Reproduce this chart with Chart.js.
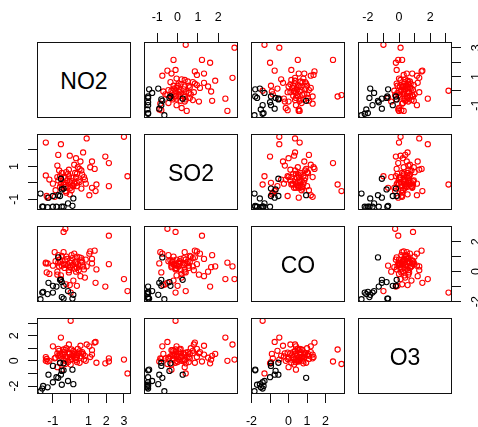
<!DOCTYPE html>
<html>
<head>
<meta charset="utf-8">
<script src="https://cdn.jsdelivr.net/npm/chart.js@4.4.1/dist/chart.umd.min.js"></script>
<style>
  html, body { margin: 0; background: #fff; overflow: hidden; }
  #wrap { position: relative; width: 478px; height: 427px; }
  #wrap canvas { position: absolute; }
  .diag {
    position: absolute; box-sizing: border-box; border: 1px solid #111;
    display: flex; align-items: center; justify-content: center;
    font: 23px "Liberation Sans", Arial, sans-serif; color: #000; padding-top: 2px;
  }
</style>
</head>
<body>
<div id="wrap"></div>
<script>
// variables, 18 points of cluster 1 (black) then 75 of cluster 2 (red)
const varNames = ['NO2', 'SO2', 'CO', 'O3'];

const no2 = [-1.70, -1.55, -1.60, -1.00, -0.80, -0.50, 0.10, -1.25, -0.70, -0.55, -0.40, -0.15, 0.15, -1.00, -0.50, -0.40, -1.30, -0.60,
  0.00, 3.20, 3.00, -0.30, -0.40, 2.15, 0.90, -0.55, -1.40, 2.15,
  1.95, 1.40, 1.45, 1.20, 1.20, 1.05, 1.10, 0.80, 0.70, 0.60,
  0.35, 0.20, 0.30, -0.05, -0.70, -0.75, -0.60, -0.30, -0.05, 0.20,
  -0.50, -0.25, -0.65, -0.25, 0.10, -0.40, -0.55, 0.00, -0.40, -0.75,
  -1.20, -1.40, -1.00, -0.60, -0.30, 0.05, 0.30, 0.65, 0.35, 0.05,
  -0.10, 0.50, 1.35, -0.90, -1.30, -1.35, 0.10, -0.20, 0.45, -0.35,
  0.25, -0.15, 0.60, -0.50, 0.40, 0.35, -0.70, 0.75, -0.05, -0.85,
  0.50, 0.55, 0.85, -0.10, 0.15];

const so2 = [-0.65, -1.45, -1.45, -1.45, -1.45, -1.45, -1.40, -0.90, -0.75, 0.25, -0.35, -1.25, -0.95, -0.80, -0.40, -1.45, -1.48, -0.80,
  -0.10, 0.40, 2.80, -0.50, -0.10, 1.20, 2.70, 2.35, 2.45, -0.20,
  1.60, -0.50, -0.10, -0.30, 1.30, -0.75, 0.95, 0.20, 1.85, 0.75,
  0.55, 1.10, 1.50, 1.65, 1.70, 1.05, 0.40, 0.30, 0.05, -0.05,
  -0.30, -0.60, 0.75, 0.65, 0.30, 0.05, -0.05, -0.30, 0.35, 0.35,
  0.20, 0.45, -0.05, -0.25, -0.25, 0.10, 0.35, 0.50, -0.20, -0.45,
  0.40, 0.05, 0.85, -0.85, -0.90, -0.80, -0.15, 0.15, 0.15, -0.10,
  0.60, 0.55, -0.35, 0.60, 0.95, 0.00, 0.15, 0.35, -0.70, -0.45,
  0.85, 1.30, -0.05, 0.80, -0.20];

const co = [-1.84, -1.35, -1.40, -1.40, -1.00, -1.70, -1.80, -0.75, 0.95, -0.55, -0.95, -1.30, -1.55, -0.95, -0.70, -1.80, -1.50, -0.55,
  -1.40, -1.30, -0.50, 2.86, 2.65, 2.40, 0.35, -0.50, 0.60, 0.50,
  -1.00, -0.75, 0.15, 0.55, 0.85, 1.20, 1.35, -0.40, 0.35, 0.90,
  0.25, 1.20, 0.00, 0.30, 1.10, -0.20, 0.80, 0.45, 0.60, 0.20,
  0.40, -0.85, 0.35, 1.00, 0.90, 0.50, -0.25, 0.30, 1.30, 0.00,
  -0.15, 0.55, 0.40, 0.65, 0.75, 0.70, 0.55, 0.65, 1.00, 1.10,
  -0.05, 0.35, 1.40, 1.30, 0.55, -0.05, 0.45, 0.85, 0.10, 0.25,
  0.65, 0.40, 0.75, 1.05, 0.50, -0.95, 0.60, 0.15, -0.90, 0.70,
  0.95, -0.30, 0.80, 0.10, -0.60];

const o3 = [-2.41, -2.00, -2.20, -1.70, -1.30, -1.90, -0.70, -1.10, -1.35, -1.10, -0.20, -1.60, -1.85, -0.40, -0.80, -0.75, -2.10, -0.15,
  3.18, -1.00, 0.10, -0.25, 0.90, -0.05, 1.30, 1.85, 0.00, 0.20,
  -0.20, 1.50, -0.15, 0.85, 0.50, 1.15, 0.30, 0.40, 0.55, 0.60,
  0.30, 0.70, 0.25, 0.10, 0.40, 0.60, -0.20, 0.00, 0.30, 0.50,
  -0.70, 0.20, 0.80, 1.00, 0.60, 0.10, 0.35, -0.30, 0.50, -0.50,
  0.00, 0.30, 1.15, 0.50, 0.85, 0.90, 0.05, 0.70, 0.45, 0.15,
  0.65, 0.75, 1.45, 0.20, -0.05, 0.15, 0.40, 0.30, 0.60, 0.70,
  0.20, -0.10, 0.35, 0.55, 0.95, -0.10, 0.95, 0.10, 0.55, 0.25,
  -0.15, 1.20, 0.00, 1.30, 0.80];

const cluster = [1, 1, 1, 1, 1, 1, 1, 1, 1, 1, 1, 1, 1, 1, 1, 1, 1, 1].concat(new Array(75).fill(2));

// ticks and the labels R kept on each outer axis
const ticksNO2 = [-1, 0, 1, 2, 3];
const ticksSO2 = [-1, 0, 1, 2];
const ticksCO = [-2, -1, 0, 1, 2];
const ticksO3 = [-2, -1, 0, 1, 2, 3];
const labelsSO2Top = ['-1', '0', '1', '2'];
const labelsO3Top = ['-2', '', '0', '', '2', ''];
const labelsNO2Bottom = ['-1', '', '1', '2', '3'];
const labelsCOBottom = ['-2', '', '0', '1', '2'];
const labelsSO2Left = ['-1', '', '1', ''];
const labelsO3Left = ['-2', '', '0', '', '2', ''];
const labelsNO2Right = ['-1', '', '1', '', '3'];
const labelsCORight = ['-2', '', '0', '', '2'];

const series = [no2, so2, co, o3];
const tickSets = [ticksNO2, ticksSO2, ticksCO, ticksO3];
const topLabels = { 1: labelsSO2Top, 3: labelsO3Top };
const bottomLabels = { 0: labelsNO2Bottom, 2: labelsCOBottom };
const leftLabels = { 1: labelsSO2Left, 3: labelsO3Left };
const rightLabels = { 0: labelsNO2Right, 2: labelsCORight };

const colLeft = [37, 144, 251, 358];
const rowTop = [42, 134, 226, 318];
const boxW = 94, boxH = 76, M = 40;
const font = { family: "'Liberation Sans', Arial, sans-serif", size: 12.5 };

function rangeOf(v) {
  const lo = Math.min(...v), hi = Math.max(...v), p = (hi - lo) * 0.04;
  return [lo - p, hi + p];
}

const boxPlugin = {
  id: 'panelBox',
  afterDatasetsDraw(chart) {
    const { ctx, chartArea: a } = chart;
    ctx.save();
    ctx.strokeStyle = '#111';
    ctx.lineWidth = 1;
    ctx.strokeRect(a.left + 0.5, a.top + 0.5, a.width - 1, a.height - 1);
    ctx.restore();
  }
};

function axisOpts(vi, horizontal, side, labels) {
  const [lo, hi] = rangeOf(series[vi]);
  const shown = !!labels;
  const o = {
    type: 'linear', min: lo, max: hi, display: shown, position: side,
    afterBuildTicks: s => { s.ticks = tickSets[vi].map(v => ({ value: v })); },
    afterFit: s => {
      if (!shown) return;
      if (horizontal) s.height = M; else s.width = M;
    },
    grid: { drawOnChartArea: false, drawTicks: true, tickLength: 9, color: '#111' },
    border: { display: false },
    ticks: {
      autoSkip: false, font, color: '#000',
      callback: (v, i) => (labels ? labels[i] : '')
    }
  };
  if (horizontal) {
    o.ticks.maxRotation = 0;
    o.ticks.padding = side === 'top' ? 8 : 11;
  } else {
    o.ticks.minRotation = 90;
    o.ticks.maxRotation = 90;
    o.ticks.crossAlign = 'center';
    o.ticks.padding = side === 'left' ? 8 : 10;
  }
  return o;
}

const wrap = document.getElementById('wrap');

for (let i = 0; i < 4; i++) {
  for (let j = 0; j < 4; j++) {
    if (i === j) {
      const d = document.createElement('div');
      d.className = 'diag';
      d.style.left = colLeft[j] + 'px';
      d.style.top = rowTop[i] + 'px';
      d.style.width = boxW + 'px';
      d.style.height = boxH + 'px';
      d.textContent = varNames[i];
      wrap.appendChild(d);
      continue;
    }
    const xTop = i === 0 ? topLabels[j] : null;
    const xBottom = i === 3 ? bottomLabels[j] : null;
    const yLeft = j === 0 ? leftLabels[i] : null;
    const yRight = j === 3 ? rightLabels[i] : null;

    const cv = document.createElement('canvas');
    cv.width = boxW + 2 * M;
    cv.height = boxH + 2 * M;
    cv.style.left = (colLeft[j] - M) + 'px';
    cv.style.top = (rowTop[i] - M) + 'px';
    cv.style.width = cv.width + 'px';
    cv.style.height = cv.height + 'px';
    wrap.appendChild(cv);

    const xs = series[j], ys = series[i];
    const pts = k => xs.map((x, n) => ({ x, y: ys[n], c: cluster[n] }))
      .filter(p => p.c === k);

    new Chart(cv, {
      type: 'scatter',
      data: {
        datasets: [
          { data: pts(1), borderColor: '#000' },
          { data: pts(2), borderColor: '#ff0000' }
        ]
      },
      options: {
        responsive: false,
        animation: false,
        devicePixelRatio: 1,
        layout: {
          padding: {
            top: xTop ? 0 : M, bottom: xBottom ? 0 : M,
            left: yLeft ? 0 : M, right: yRight ? 0 : M
          }
        },
        elements: {
          point: { radius: 2.6, borderWidth: 1.1, backgroundColor: 'rgba(0,0,0,0)', pointStyle: 'circle' }
        },
        plugins: { legend: { display: false }, tooltip: { enabled: false } },
        scales: {
          x: axisOpts(j, true, xTop ? 'top' : 'bottom', xTop || xBottom),
          y: axisOpts(i, false, yLeft ? 'left' : 'right', yLeft || yRight)
        }
      },
      plugins: [boxPlugin]
    });
  }
}
</script>
</body>
</html>
